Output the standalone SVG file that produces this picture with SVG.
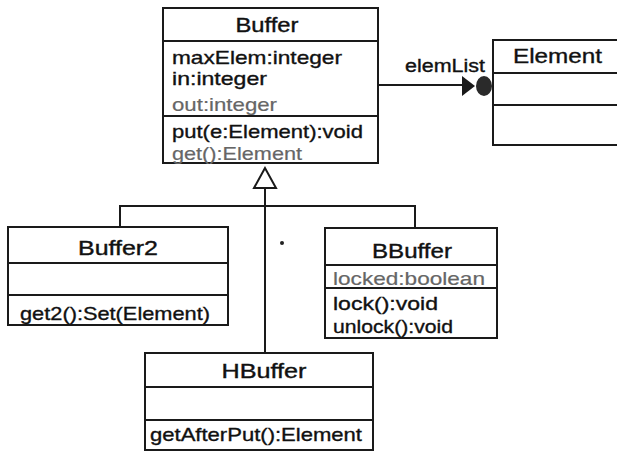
<svg xmlns="http://www.w3.org/2000/svg" width="617" height="454" viewBox="0 0 617 454">
<style>
.box{fill:#fff;stroke:#1a1a1a;stroke-width:2}
.sep{stroke:#1a1a1a;stroke-width:2;fill:none}
.t{font-family:"Liberation Sans",Arial,sans-serif;font-size:19px;fill:#111;stroke:#111;stroke-width:0.35}
.title{font-family:"Liberation Sans",Arial,sans-serif;font-size:21px;fill:#111;stroke:#111;stroke-width:0.4;text-anchor:middle}
.gray{fill:#666;stroke:#666;stroke-width:0.2}
.conn{stroke:#1a1a1a;stroke-width:2;fill:none}
</style>
<rect width="617" height="454" fill="#fff"/>
<g id="connectors">
  <line class="conn" x1="378" y1="85" x2="463" y2="85"/>
  <polygon points="462,76 475,86 462,96" fill="#1a1a1a"/>
  <ellipse cx="484" cy="86" rx="8" ry="10" fill="#2a2a2a"/>
  <text class="t" x="405" y="72" textLength="80" lengthAdjust="spacingAndGlyphs" style="font-size:18px">elemList</text>
  <polygon points="265,168 254,188 276,188" fill="#fff" stroke="#1a1a1a" stroke-width="2"/>
  <line class="conn" x1="265" y1="188" x2="265" y2="353"/>
  <polyline class="conn" points="120,227 120,206 415,206 415,228"/>
  <circle cx="282" cy="243" r="2" fill="#222"/>
</g>
<g id="Buffer">
  <rect class="box" x="163" y="8" width="215" height="155"/>
  <line class="sep" x1="163" y1="41" x2="378" y2="41"/>
  <line class="sep" x1="163" y1="116" x2="378" y2="116"/>
  <text class="title" x="267" y="32" textLength="63" lengthAdjust="spacingAndGlyphs">Buffer</text>
  <text class="t" x="172" y="64" textLength="170" lengthAdjust="spacingAndGlyphs">maxElem:integer</text>
  <text class="t" x="172" y="85" textLength="95" lengthAdjust="spacingAndGlyphs">in:integer</text>
  <text class="t gray" x="172" y="111" textLength="105" lengthAdjust="spacingAndGlyphs">out:integer</text>
  <text class="t" x="172" y="138" textLength="191" lengthAdjust="spacingAndGlyphs">put(e:Element):void</text>
  <text class="t gray" x="172" y="160" textLength="130" lengthAdjust="spacingAndGlyphs">get():Element</text>
</g>
<g id="Element">
  <rect class="box" x="493" y="40" width="140" height="105"/>
  <line class="sep" x1="493" y1="73" x2="617" y2="73"/>
  <line class="sep" x1="493" y1="105" x2="617" y2="105"/>
  <text class="t" x="513" y="63" textLength="89" lengthAdjust="spacingAndGlyphs" style="font-size:20px">Element</text>
</g>
<g id="Buffer2">
  <rect class="box" x="8" y="227" width="220" height="98"/>
  <line class="sep" x1="8" y1="263" x2="228" y2="263"/>
  <line class="sep" x1="8" y1="295" x2="228" y2="295"/>
  <text class="title" x="118" y="255" textLength="80" lengthAdjust="spacingAndGlyphs">Buffer2</text>
  <text class="t" x="20" y="320" textLength="190" lengthAdjust="spacingAndGlyphs">get2():Set(Element)</text>
</g>
<g id="BBuffer">
  <rect class="box" x="325" y="228" width="172" height="110"/>
  <line class="sep" x1="325" y1="265" x2="497" y2="265"/>
  <line class="sep" x1="325" y1="288" x2="497" y2="288"/>
  <text class="title" x="412" y="258" textLength="80" lengthAdjust="spacingAndGlyphs">BBuffer</text>
  <text class="t gray" x="333" y="285" textLength="152" lengthAdjust="spacingAndGlyphs">locked:boolean</text>
  <text class="t" x="333" y="310" textLength="105" lengthAdjust="spacingAndGlyphs">lock():void</text>
  <text class="t" x="333" y="333" textLength="120" lengthAdjust="spacingAndGlyphs">unlock():void</text>
</g>
<g id="HBuffer">
  <rect class="box" x="145" y="353" width="228" height="97"/>
  <line class="sep" x1="145" y1="387" x2="373" y2="387"/>
  <line class="sep" x1="145" y1="420" x2="373" y2="420"/>
  <text class="title" x="264" y="378" textLength="85" lengthAdjust="spacingAndGlyphs">HBuffer</text>
  <text class="t" x="150" y="441" textLength="212" lengthAdjust="spacingAndGlyphs">getAfterPut():Element</text>
</g>
</svg>
